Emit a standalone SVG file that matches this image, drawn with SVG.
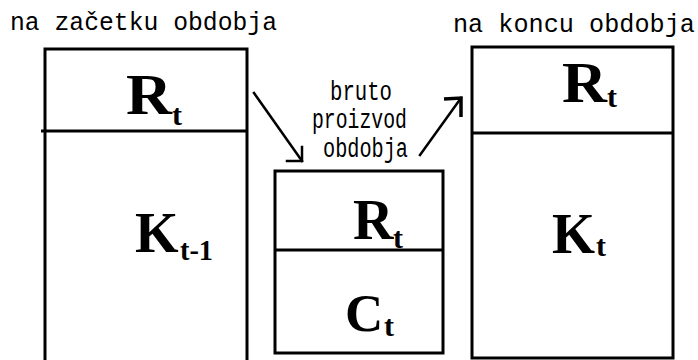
<svg xmlns="http://www.w3.org/2000/svg" width="698" height="360" viewBox="0 0 698 360">
<style>
.box{fill:none;stroke:#000;stroke-width:3}
.div{stroke:#000;stroke-width:3}
.hdr{font-family:"Liberation Mono","Courier New",monospace;font-size:25px;fill:#000}
.mid{font-family:"Liberation Mono","Courier New",monospace;font-size:27px;fill:#000}
.big{font-family:"Liberation Serif","Times New Roman",serif;font-weight:bold;font-size:56px;fill:#000}
.sub{font-family:"Liberation Serif","Times New Roman",serif;font-weight:bold;font-size:30px;fill:#000}
.arr{fill:none;stroke:#000;stroke-width:2.5;stroke-linecap:square}
</style>
<rect width="698" height="360" fill="#fff"/>
<g id="title-start"><text class="hdr" x="10" y="30" textLength="267" lengthAdjust="spacingAndGlyphs">na začetku obdobja</text></g>
<g id="title-end"><text class="hdr" x="453" y="32" textLength="242" lengthAdjust="spacingAndGlyphs">na koncu obdobja</text></g>
<g id="box-start">
<rect class="box" x="45" y="49" width="202" height="330"/>
<line class="div" x1="41" y1="131" x2="247" y2="131"/>
<text class="big" x="126" y="114" textLength="46" lengthAdjust="spacingAndGlyphs">R</text>
<text class="sub" x="172" y="125">t</text>
<text class="big" x="135" y="252">K</text>
<text class="sub" x="180" y="260" textLength="33" lengthAdjust="spacingAndGlyphs">t-1</text>
</g>
<g id="box-middle">
<rect class="box" x="275" y="171" width="168" height="182"/>
<line class="div" x1="275" y1="250" x2="443" y2="250"/>
<text class="big" x="353" y="239">R</text>
<text class="sub" x="393" y="248">t</text>
<text class="big" x="345" y="331" style="font-size:53px">C</text>
<text class="sub" x="384" y="336">t</text>
</g>
<g id="box-end">
<rect class="box" x="472" y="47" width="201" height="311"/>
<line class="div" x1="472" y1="133" x2="673" y2="133"/>
<text class="big" x="562" y="102" textLength="45" lengthAdjust="spacingAndGlyphs">R</text>
<text class="sub" x="607" y="107">t</text>
<text class="big" x="552" y="253" textLength="43" lengthAdjust="spacingAndGlyphs">K</text>
<text class="sub" x="596" y="256">t</text>
</g>
<g id="label-middle">
<text class="mid" x="330" y="100" textLength="62" lengthAdjust="spacingAndGlyphs">bruto</text>
<text class="mid" x="312" y="128" textLength="95" lengthAdjust="spacingAndGlyphs">proizvod</text>
<text class="mid" x="323" y="157" textLength="85" lengthAdjust="spacingAndGlyphs">obdobja</text>
</g>
<g id="connectors">
<line class="arr" x1="254" y1="93" x2="302" y2="161"/>
<polyline class="arr" points="287,161 302,161 302,147"/>
<line class="arr" x1="420" y1="155" x2="461" y2="98"/>
<polyline class="arr" points="444,99 461,98 461,117" style="stroke-width:3.5;stroke-linecap:butt"/>
</g>
</svg>
